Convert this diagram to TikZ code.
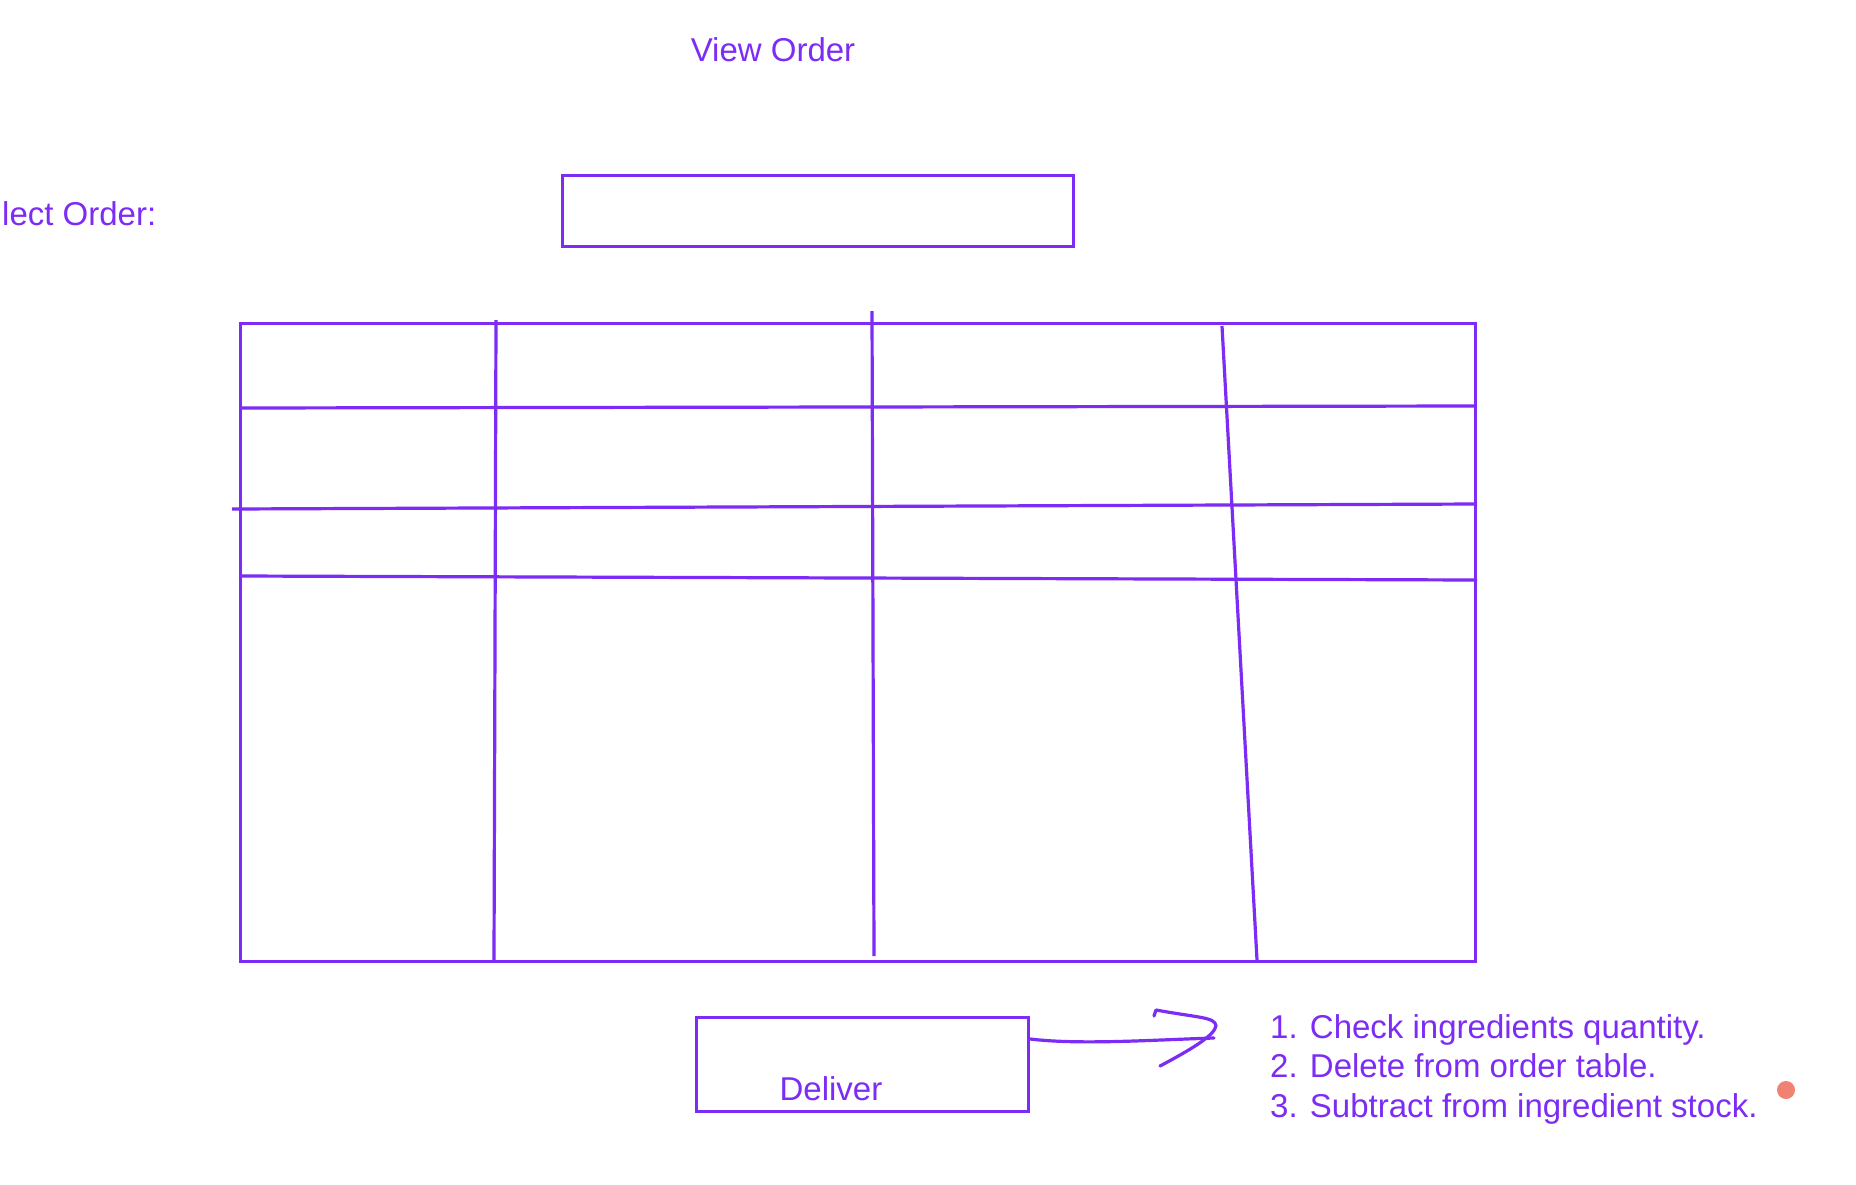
\documentclass[tikz,border=0pt]{standalone}
\usepackage{fontspec}
\setmainfont{Liberation Sans}
\definecolor{vio}{RGB}{124,44,245}
\definecolor{dotred}{RGB}{240,130,115}
\begin{document}
\begin{tikzpicture}[x=1pt,y=-1pt,
  ln/.style={draw=vio,line width=3.2pt},
  txt/.style={text=vio,font=\fontsize{33}{39.5}\selectfont,inner sep=0pt},
  box/.style={draw=vio,line width=3.2pt,inner sep=0pt,anchor=north west}]
\clip (0,0) rectangle (1856,1184);
\fill[white] (0,0) rectangle (1856,1184);
% title
\node[txt,anchor=base] (title) at (773,61) {View Order};
\node[txt,anchor=base west] (sel) at (2,225) {lect Order:};
% input box
\node[box,minimum width=511pt,minimum height=71pt] (inbox) at (561,174) {};
% table
\node[box,minimum width=1235pt,minimum height=638pt] (tab) at (239,322) {};
\coordinate (h1a) at (239,408); \coordinate (h1b) at (1474,406);
\coordinate (h2a) at (232,509); \coordinate (h2b) at (1477,504);
\coordinate (h3a) at (239,576); \coordinate (h3b) at (1477,580);
\coordinate (v1a) at (496,320); \coordinate (v1b) at (494,960);
\coordinate (v2a) at (872,311); \coordinate (v2b) at (874,956);
\coordinate (v3a) at (1222,326); \coordinate (v3b) at (1257,960);
\draw[ln] (h1a) -- (h1b);
\draw[ln] (h2a) -- (h2b);
\draw[ln] (h3a) -- (h3b);
\draw[ln] (v1a) -- (v1b);
\draw[ln] (v2a) -- (v2b);
\draw[ln] (v3a) -- (v3b);
% deliver
\node[box,minimum width=332pt,minimum height=94pt] (deliver) at (695,1016) {};
\node[txt,anchor=base] (dtext) at (831,1100) {Deliver};
% arrow
\coordinate (aend) at (1214,1038);
\draw[ln,line cap=round] (deliver.north east |- 0,1039) .. controls (1080,1045) and (1150,1040) .. (aend);
\draw[ln,line cap=round,line join=round] (1154,1016) -- (1156,1010) .. controls (1200,1018) and (1215,1017) .. (1216,1026) .. controls (1214,1036) and (1190,1050) .. (1160,1066);
% list
\node[txt,anchor=base west] (l1) at (1270,1038) {1. Check ingredients quantity.};
\node[txt,anchor=base west] (l2) at (1270,1077) {2. Delete from order table.};
\node[txt,anchor=base west] (l3) at (1270,1117) {3. Subtract from ingredient stock.};
% dot
\fill[dotred] (1786,1090) circle (9);
\end{tikzpicture}
\end{document}
